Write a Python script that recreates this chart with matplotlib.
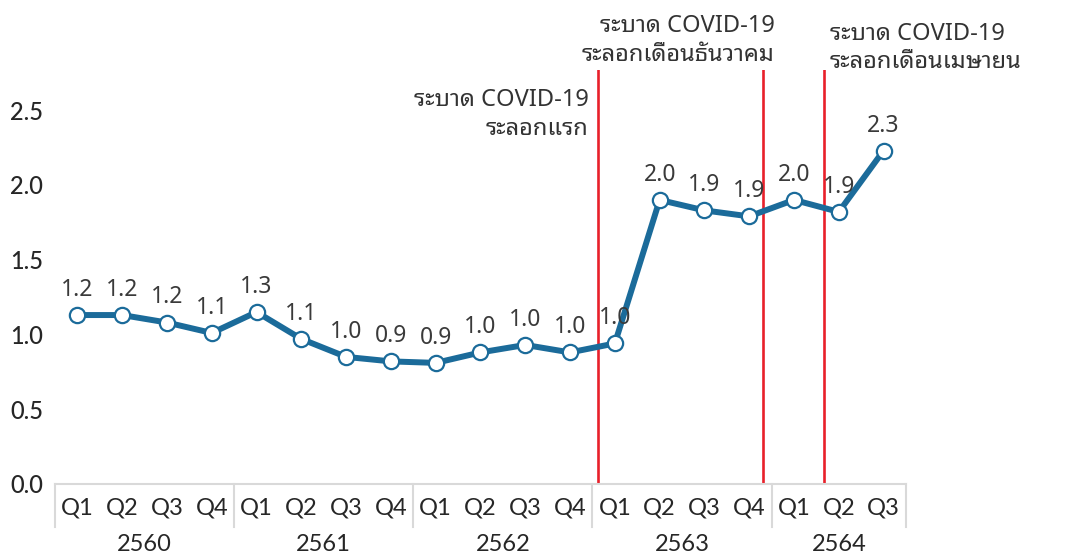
import matplotlib
matplotlib.use("Agg")
import matplotlib.pyplot as plt
import matplotlib.transforms as mtransforms

# ข้อมูล
quarters = ["Q1", "Q2", "Q3", "Q4", "Q1", "Q2", "Q3", "Q4", "Q1", "Q2", "Q3", "Q4",
            "Q1", "Q2", "Q3", "Q4", "Q1", "Q2", "Q3"]
years = ["2560", "2561", "2562", "2563", "2564"]
quarters_per_year = [4, 4, 4, 4, 3]
values = [1.13, 1.13, 1.08, 1.01, 1.15, 0.97, 0.85, 0.82, 0.81, 0.88, 0.93, 0.88,
          0.94, 1.90, 1.83, 1.79, 1.90, 1.82, 2.23]
value_labels = ["1.2", "1.2", "1.2", "1.1", "1.3", "1.1", "1.0", "0.9", "0.9", "1.0",
                "1.0", "1.0", "1.0", "2.0", "1.9", "1.9", "2.0", "1.9", "2.3"]
yticks = [0.0, 0.5, 1.0, 1.5, 2.0, 2.5]

# เส้นแดง (ตำแหน่งบนแกน x) และข้อความ
event_x = [11.63, 15.3, 16.67]
event_text = [("ระบาด COVID-19", "ระลอกแรก"),
              ("ระบาด COVID-19", "ระลอกเดือนธันวาคม"),
              ("ระบาด COVID-19", "ระลอกเดือนเมษายน")]

thai_font = ["Noto Sans Thai Looped", "Noto Sans"]
num_font = ["Lato", "DejaVu Sans"]

line_color = "#1b6b9a"
red = "#e8202a"
grey_line = "#d9d9d9"
text_color = "#262626"

fig = plt.figure(figsize=(10.66, 5.53), dpi=100)
ax = fig.add_axes([0.0516, 0.1248, 0.7983, 0.7486])

x = list(range(len(values)))
ax.plot(x, values, color=line_color, linewidth=4.3, marker="o", markersize=11,
        markerfacecolor="white", markeredgecolor=line_color, markeredgewidth=1.6,
        zorder=3)

for xi, v, lab in zip(x, values, value_labels):
    ax.annotate(lab, (xi, v), xytext=(0, 13.7), textcoords="offset points",
                ha="center", va="baseline", fontsize=16.5, color="#3a3a3a",
                family=thai_font, fontweight="light", zorder=4)

ax.set_xlim(-0.5, len(values) - 0.5)
ax.set_ylim(0, 2.769)
ax.set_yticks(yticks)
ax.set_yticklabels([f"{t:.1f}" for t in yticks], family=num_font, fontsize=17,
                   color=text_color, fontweight="medium")
ax.tick_params(axis="y", length=0, pad=8.6)

ax.set_xticks(x)
ax.set_xticklabels(quarters, family=num_font, fontsize=17, color=text_color)
ax.tick_params(axis="x", length=0, pad=10)

for s in ["top", "right", "left"]:
    ax.spines[s].set_visible(False)
ax.spines["bottom"].set_color(grey_line)
ax.spines["bottom"].set_linewidth(1.5)

# กรอบแบ่งปีด้านล่าง
trans = mtransforms.blended_transform_factory(ax.transData, ax.transAxes)
start = -0.5
for yr, n in zip(years, quarters_per_year):
    ax.plot([start, start], [0, -0.104], color=grey_line, linewidth=1.5,
            transform=trans, clip_on=False)
    ax.text(start + n / 2, -0.145, yr, transform=trans, ha="center", va="center",
            family=num_font, fontsize=17, color=text_color)
    start += n
ax.plot([start, start], [0, -0.104], color=grey_line, linewidth=1.5,
        transform=trans, clip_on=False)

# เส้นแดงและคำอธิบาย
for ex in event_x:
    ax.axvline(ex, ymin=0, ymax=1, color=red, linewidth=1.9, zorder=2)

text_pos = [(event_x[0] - 0.22, "right", 0.913, 0.843),
            (event_x[1] + 0.27, "right", 1.0916, 1.0217),
            (event_x[2] + 0.13, "left", 1.0723, 1.0048)]
for (l1, l2), (tx, ha, y1, y2) in zip(event_text, text_pos):
    ax.text(tx, y1, l1, transform=trans, ha=ha, va="baseline", fontsize=17,
            family=thai_font, fontweight="light", color="#333333", clip_on=False)
    ax.text(tx, y2, l2, transform=trans, ha=ha, va="baseline", fontsize=17,
            family=thai_font, fontweight="light", color="#333333", clip_on=False)

fig.savefig("out.png", dpi=100)
